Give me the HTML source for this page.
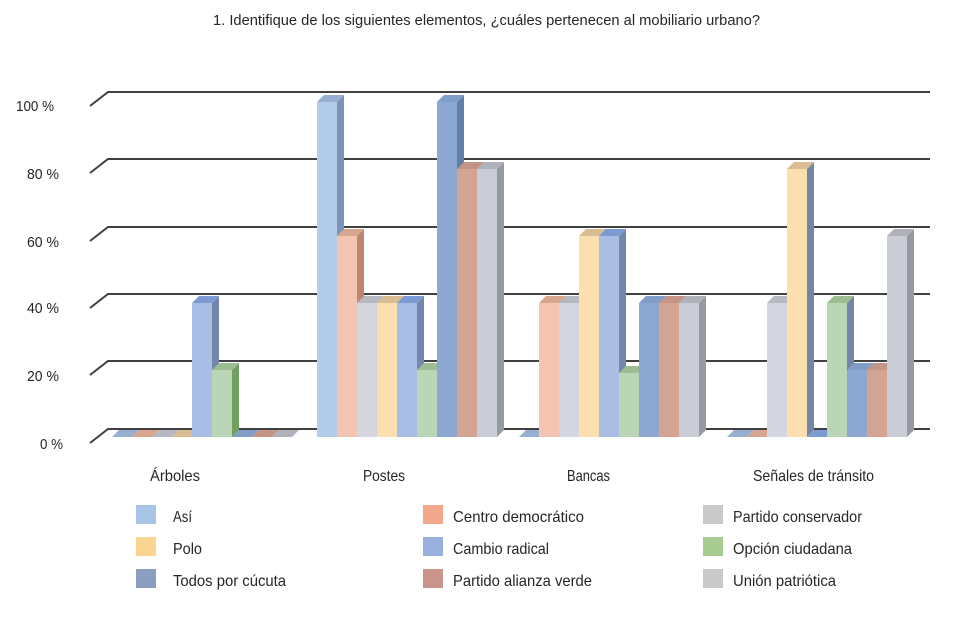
<!DOCTYPE html>
<html><head><meta charset="utf-8"><style>
html,body{margin:0;padding:0;background:#fff;}
svg{display:block;font-family:"Liberation Sans",sans-serif;}
text{fill:#262626;}
.f0{fill:#B3CCEA}.s0{fill:#7C93B5}.t0{fill:#97AFD0}
.f1{fill:#F2C4B1}.s1{fill:#BD8670}.t1{fill:#D8A58F}
.f2{fill:#D3D6DE}.s2{fill:#9EA2AA}.t2{fill:#B6B9C1}
.f3{fill:#FBDFAE}.s3{fill:#7486A6}.t3{fill:#D9BC94}
.f4{fill:#A9BDE5}.s4{fill:#7486AC}.t4{fill:#7C9BD2}
.f5{fill:#BAD6B6}.s5{fill:#70A060}.s5b{fill:#7486A6}.t5{fill:#9DBC92}
.f6{fill:#8CA8D1}.s6{fill:#5F7FA8}.t6{fill:#7F9DC6}
.f7{fill:#D3A492}.s7{fill:#A57869}.t7{fill:#C49585}
.f8{fill:#CACDD5}.s8{fill:#969AA2}.t8{fill:#AFB2BA}
</style></head><body>
<svg width="971" height="620" viewBox="0 0 971 620" xmlns="http://www.w3.org/2000/svg">
<rect width="971" height="620" fill="#fff"/>
<text x="213" y="25" font-size="15" textLength="547" lengthAdjust="spacingAndGlyphs">1. Identifique de los siguientes elementos, ¿cuáles pertenecen al mobiliario urbano?</text>

<!-- gridlines -->
<g stroke="#404040" stroke-width="2" fill="none">
<polyline points="90,106 108,92 930,92"/>
<polyline points="90,173 108,159 930,159"/>
<polyline points="90,241 108,227 930,227"/>
<polyline points="90,308 108,294 930,294"/>
<polyline points="90,375 108,361 930,361"/>
<polyline points="90,443 108,429 930,429"/>
</g>

<!-- y labels -->
<g font-size="15">
<text x="16" y="111" textLength="38" lengthAdjust="spacingAndGlyphs">100 %</text>
<text x="27" y="179" textLength="32" lengthAdjust="spacingAndGlyphs">80 %</text>
<text x="27" y="247" textLength="32" lengthAdjust="spacingAndGlyphs">60 %</text>
<text x="27" y="313" textLength="32" lengthAdjust="spacingAndGlyphs">40 %</text>
<text x="27" y="381" textLength="32" lengthAdjust="spacingAndGlyphs">20 %</text>
<text x="40" y="449" textLength="23" lengthAdjust="spacingAndGlyphs">0 %</text>
</g>

<!-- Árboles -->
<g transform="translate(112,437)"><polygon class="t0" points="0,0 7,-7 27,-7 20,0"/></g>
<g transform="translate(132,437)"><polygon class="t1" points="0,0 7,-7 27,-7 20,0"/></g>
<g transform="translate(152,437)"><polygon class="t2" points="0,0 7,-7 27,-7 20,0"/></g>
<g transform="translate(172,437)"><polygon class="t3" points="0,0 7,-7 27,-7 20,0"/></g>
<g transform="translate(192,437)"><rect class="f4" x="0" y="-134" width="20" height="134"/><polygon class="s4" points="20,-134 27,-141 27,-7 20,0"/><polygon class="t4" points="0,-134 7,-141 27,-141 20,-134"/></g>
<g transform="translate(232,437)"><polygon class="t6" points="0,0 7,-7 27,-7 20,0"/></g>
<g transform="translate(252,437)"><polygon class="t7" points="0,0 7,-7 27,-7 20,0"/></g>
<g transform="translate(272,437)"><polygon class="t8" points="0,0 7,-7 27,-7 20,0"/></g>
<g transform="translate(212,437)"><rect class="f5" x="0" y="-67" width="20" height="67"/><polygon class="s5" points="20,-67 27,-74 27,-7 20,0"/><polygon class="t5" points="0,-67 7,-74 27,-74 20,-67"/></g>

<!-- Postes -->
<g transform="translate(317,437)"><rect class="f0" x="0" y="-335" width="20" height="335"/><polygon class="s0" points="20,-335 27,-342 27,-7 20,0"/><polygon class="t0" points="0,-335 7,-342 27,-342 20,-335"/></g>
<g transform="translate(337,437)"><rect class="f1" x="0" y="-201" width="20" height="201"/><polygon class="s1" points="20,-201 27,-208 27,-7 20,0"/><polygon class="t1" points="0,-201 7,-208 27,-208 20,-201"/></g>
<g transform="translate(357,437)"><rect class="f2" x="0" y="-134" width="20" height="134"/><polygon class="s2" points="20,-134 27,-141 27,-7 20,0"/><polygon class="t2" points="0,-134 7,-141 27,-141 20,-134"/></g>
<g transform="translate(377,437)"><rect class="f3" x="0" y="-134" width="20" height="134"/><polygon class="s3" points="20,-134 27,-141 27,-7 20,0"/><polygon class="t3" points="0,-134 7,-141 27,-141 20,-134"/></g>
<g transform="translate(397,437)"><rect class="f4" x="0" y="-134" width="20" height="134"/><polygon class="s4" points="20,-134 27,-141 27,-7 20,0"/><polygon class="t4" points="0,-134 7,-141 27,-141 20,-134"/></g>
<g transform="translate(417,437)"><rect class="f5" x="0" y="-67" width="20" height="67"/><polygon class="s5" points="20,-67 27,-74 27,-7 20,0"/><polygon class="t5" points="0,-67 7,-74 27,-74 20,-67"/></g>
<g transform="translate(437,437)"><rect class="f6" x="0" y="-335" width="20" height="335"/><polygon class="s6" points="20,-335 27,-342 27,-7 20,0"/><polygon class="t6" points="0,-335 7,-342 27,-342 20,-335"/></g>
<g transform="translate(457,437)"><rect class="f7" x="0" y="-268" width="20" height="268"/><polygon class="s7" points="20,-268 27,-275 27,-7 20,0"/><polygon class="t7" points="0,-268 7,-275 27,-275 20,-268"/></g>
<g transform="translate(477,437)"><rect class="f8" x="0" y="-268" width="20" height="268"/><polygon class="s8" points="20,-268 27,-275 27,-7 20,0"/><polygon class="t8" points="0,-268 7,-275 27,-275 20,-268"/></g>

<!-- Bancas -->
<g transform="translate(519,437)"><polygon class="t0" points="0,0 7,-7 27,-7 20,0"/></g>
<g transform="translate(539,437)"><rect class="f1" x="0" y="-134" width="20" height="134"/><polygon class="s1" points="20,-134 27,-141 27,-7 20,0"/><polygon class="t1" points="0,-134 7,-141 27,-141 20,-134"/></g>
<g transform="translate(559,437)"><rect class="f2" x="0" y="-134" width="20" height="134"/><polygon class="s2" points="20,-134 27,-141 27,-7 20,0"/><polygon class="t2" points="0,-134 7,-141 27,-141 20,-134"/></g>
<g transform="translate(579,437)"><rect class="f3" x="0" y="-201" width="20" height="201"/><polygon class="s3" points="20,-201 27,-208 27,-7 20,0"/><polygon class="t3" points="0,-201 7,-208 27,-208 20,-201"/></g>
<g transform="translate(599,437)"><rect class="f4" x="0" y="-201" width="20" height="201"/><polygon class="s4" points="20,-201 27,-208 27,-7 20,0"/><polygon class="t4" points="0,-201 7,-208 27,-208 20,-201"/></g>
<g transform="translate(619,437)"><rect class="f5" x="0" y="-64" width="20" height="64"/><polygon class="s5" points="20,-64 27,-71 27,-7 20,0"/><polygon class="t5" points="0,-64 7,-71 27,-71 20,-64"/></g>
<g transform="translate(639,437)"><rect class="f6" x="0" y="-134" width="20" height="134"/><polygon class="s6" points="20,-134 27,-141 27,-7 20,0"/><polygon class="t6" points="0,-134 7,-141 27,-141 20,-134"/></g>
<g transform="translate(659,437)"><rect class="f7" x="0" y="-134" width="20" height="134"/><polygon class="s7" points="20,-134 27,-141 27,-7 20,0"/><polygon class="t7" points="0,-134 7,-141 27,-141 20,-134"/></g>
<g transform="translate(679,437)"><rect class="f8" x="0" y="-134" width="20" height="134"/><polygon class="s8" points="20,-134 27,-141 27,-7 20,0"/><polygon class="t8" points="0,-134 7,-141 27,-141 20,-134"/></g>

<!-- Señales de tránsito -->
<g transform="translate(727,437)"><polygon class="t0" points="0,0 7,-7 27,-7 20,0"/></g>
<g transform="translate(747,437)"><polygon class="t1" points="0,0 7,-7 27,-7 20,0"/></g>
<g transform="translate(767,437)"><rect class="f2" x="0" y="-134" width="20" height="134"/><polygon class="s2" points="20,-134 27,-141 27,-7 20,0"/><polygon class="t2" points="0,-134 7,-141 27,-141 20,-134"/></g>
<g transform="translate(787,437)"><rect class="f3" x="0" y="-268" width="20" height="268"/><polygon class="s3" points="20,-268 27,-275 27,-7 20,0"/><polygon class="t3" points="0,-268 7,-275 27,-275 20,-268"/></g>
<g transform="translate(807,437)"><polygon class="t4" points="0,0 7,-7 27,-7 20,0"/></g>
<g transform="translate(827,437)"><rect class="f5" x="0" y="-134" width="20" height="134"/><polygon class="s5b" points="20,-134 27,-141 27,-7 20,0"/><polygon class="t5" points="0,-134 7,-141 27,-141 20,-134"/></g>
<g transform="translate(847,437)"><rect class="f6" x="0" y="-67" width="20" height="67"/><polygon class="s6" points="20,-67 27,-74 27,-7 20,0"/><polygon class="t6" points="0,-67 7,-74 27,-74 20,-67"/></g>
<g transform="translate(867,437)"><rect class="f7" x="0" y="-67" width="20" height="67"/><polygon class="s7" points="20,-67 27,-74 27,-7 20,0"/><polygon class="t7" points="0,-67 7,-74 27,-74 20,-67"/></g>
<g transform="translate(887,437)"><rect class="f8" x="0" y="-201" width="20" height="201"/><polygon class="s8" points="20,-201 27,-208 27,-7 20,0"/><polygon class="t8" points="0,-201 7,-208 27,-208 20,-201"/></g>

<!-- category labels -->
<g font-size="16">
<text x="150" y="481" textLength="50" lengthAdjust="spacingAndGlyphs">Árboles</text>
<text x="363" y="481" textLength="42" lengthAdjust="spacingAndGlyphs">Postes</text>
<text x="567" y="481" textLength="43" lengthAdjust="spacingAndGlyphs">Bancas</text>
<text x="753" y="481" textLength="121" lengthAdjust="spacingAndGlyphs">Señales de tránsito</text>
</g>

<!-- legend -->
<g>
<rect x="136" y="505" width="20" height="19" fill="#A7C3E6"/>
<rect x="136" y="537" width="20" height="19" fill="#FAD491"/>
<rect x="136" y="569" width="20" height="19" fill="#8A9EC0"/>
<rect x="423" y="505" width="20" height="19" fill="#F3A88E"/>
<rect x="423" y="537" width="20" height="19" fill="#9AB0DC"/>
<rect x="423" y="569" width="20" height="19" fill="#C9958A"/>
<rect x="703" y="505" width="20" height="19" fill="#C9C9C9"/>
<rect x="703" y="537" width="20" height="19" fill="#A8CB92"/>
<rect x="703" y="569" width="20" height="19" fill="#C9C9C9"/>
</g>
<g font-size="16">
<text x="173" y="522" textLength="19" lengthAdjust="spacingAndGlyphs">Así</text>
<text x="173" y="554" textLength="29" lengthAdjust="spacingAndGlyphs">Polo</text>
<text x="173" y="586" textLength="113" lengthAdjust="spacingAndGlyphs">Todos por cúcuta</text>
<text x="453" y="522" textLength="131" lengthAdjust="spacingAndGlyphs">Centro democrático</text>
<text x="453" y="554" textLength="96" lengthAdjust="spacingAndGlyphs">Cambio radical</text>
<text x="453" y="586" textLength="139" lengthAdjust="spacingAndGlyphs">Partido alianza verde</text>
<text x="733" y="522" textLength="129" lengthAdjust="spacingAndGlyphs">Partido conservador</text>
<text x="733" y="554" textLength="119" lengthAdjust="spacingAndGlyphs">Opción ciudadana</text>
<text x="733" y="586" textLength="103" lengthAdjust="spacingAndGlyphs">Unión patriótica</text>
</g>
</svg>
</body></html>
